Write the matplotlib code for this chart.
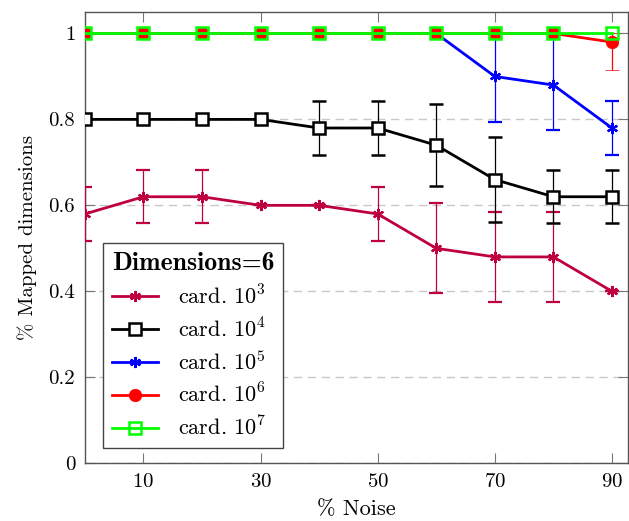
import matplotlib
matplotlib.use("Agg")
import matplotlib.pyplot as plt
from matplotlib.lines import Line2D
from matplotlib.font_manager import FontProperties

plt.rcParams['font.family'] = 'cmr10'
plt.rcParams['mathtext.fontset'] = 'cm'
plt.rcParams['axes.formatter.use_mathtext'] = True

# ---- data ----
noise = [0, 10, 20, 30, 40, 50, 60, 70, 80, 90]

card3 = [0.58, 0.62, 0.62, 0.60, 0.60, 0.58, 0.50, 0.48, 0.48, 0.40]
card3_lo = [0.062, 0.062, 0.062, 0, 0, 0.062, 0.105, 0.105, 0.105, 0]
card3_hi = [0.062, 0.062, 0.062, 0, 0, 0.062, 0.105, 0.105, 0.105, 0]

card4 = [0.80, 0.80, 0.80, 0.80, 0.78, 0.78, 0.74, 0.66, 0.62, 0.62]
card4_lo = [0, 0, 0, 0, 0.063, 0.063, 0.096, 0.098, 0.062, 0.062]
card4_hi = [0, 0, 0, 0, 0.063, 0.063, 0.096, 0.098, 0.062, 0.062]

card5 = [1, 1, 1, 1, 1, 1, 1, 0.90, 0.88, 0.78]
card5_lo = [0, 0, 0, 0, 0, 0, 0, 0.106, 0.104, 0.063]
card5_hi = [0, 0, 0, 0, 0, 0, 0, 0.10, 0.12, 0.063]

card6 = [1, 1, 1, 1, 1, 1, 1, 1, 1, 0.98]
card6_lo = [0, 0, 0, 0, 0, 0, 0, 0, 0, 0.064]
card6_hi = [0, 0, 0, 0, 0, 0, 0, 0, 0, 0.02]

card7 = [1, 1, 1, 1, 1, 1, 1, 1, 1, 1]

labels = [r'card. $10^3$', r'card. $10^4$', r'card. $10^5$', r'card. $10^6$', r'card. $10^7$']

purple = '#BF0040'
green = '#00FF00'
asterisk = (6, 2, 0)

# marker style per series (shared by the plot and the legend)
styles = [
    dict(color=purple, marker=asterisk, ms=8, mew=1.6, mfc=purple),
    dict(color='black', marker='s', ms=9, mew=1.8, mfc='white'),
    dict(color='blue', marker=asterisk, ms=8, mew=1.6, mfc='blue'),
    dict(color='red', marker='o', ms=9, mew=0.5, mfc='red'),
    dict(color=green, marker='s', ms=9, mew=1.8, mfc='none'),
]

fig = plt.figure(figsize=(6.29, 5.21), dpi=100)
ax = fig.add_axes([0.135, 0.111, 0.863, 0.866])

ax.grid(axis='y', color='#c8c8c8', linestyle=(0, (6, 4)), linewidth=1.0)
ax.set_axisbelow(True)

eb = dict(capsize=5, elinewidth=0.9, capthick=0.9, lw=2.0)

series = [(card3, card3_lo, card3_hi), (card4, card4_lo, card4_hi),
          (card5, card5_lo, card5_hi), (card6, card6_lo, card6_hi)]
for i, (vals, lo, hi) in enumerate(series):
    ax.errorbar(noise, vals, yerr=[lo, hi], ecolor=styles[i]['color'], zorder=3 + i,
                **styles[i], **eb)
ax.plot(noise, card7, lw=2.0, zorder=8, **styles[4])

ax.set_xlim(0, 92.7)
ax.set_ylim(0, 1.05)
ax.set_xticks([10, 30, 50, 70, 90])
ax.set_yticks([0, 0.2, 0.4, 0.6, 0.8, 1])
ax.set_yticklabels(['0', '0.2', '0.4', '0.6', '0.8', '1'])
ax.tick_params(direction='in', length=7, width=0.8, color='#777777',
               top=True, right=True, labelsize=15, pad=7)
for s in ax.spines.values():
    s.set_color('#555555')
    s.set_linewidth(1.0)

ax.set_xlabel(r'% Noise', fontsize=16, labelpad=6)
ax.set_ylabel(r'% Mapped dimensions', fontsize=15, labelpad=8)

handles = [Line2D([], [], lw=2.0, **st) for st in styles]
leg = ax.legend(handles, labels, loc='lower left', bbox_to_anchor=(0.033, 0.033),
                borderaxespad=0, title='Dimensions=6',
                title_fontproperties=FontProperties(family='cmb10', size=18.5),
                fontsize=16, fancybox=False, edgecolor='#444444', framealpha=1,
                labelspacing=0.4, handlelength=2.1, handletextpad=0.9, borderpad=0.4)
leg._legend_box.align = 'left'
leg.get_frame().set_linewidth(1.0)
leg.set_zorder(10)

fig.savefig('out.png', dpi=100)
